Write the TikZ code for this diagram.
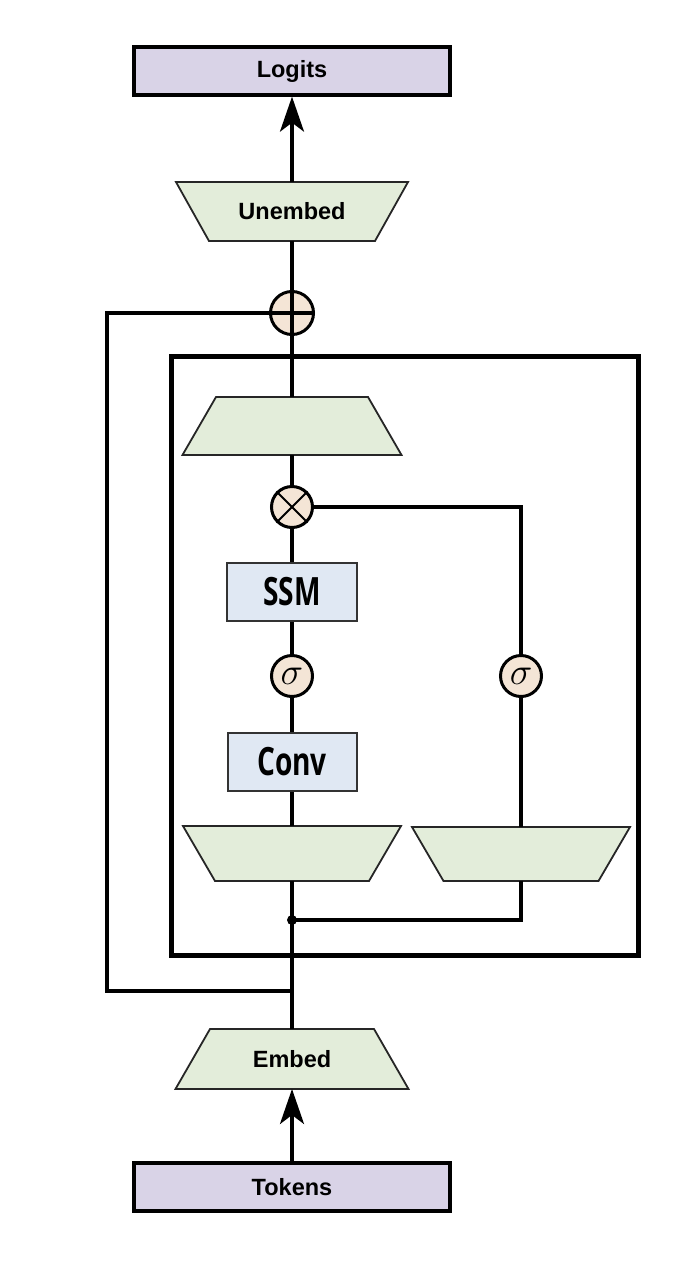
\RequirePackage{fix-cm}
\documentclass[tikz,border=0pt]{standalone}
\usepackage{fontspec}
\setmainfont{Liberation Sans}
\newfontfamily\condfont[FakeStretch=0.72]{Open Sans}
\usetikzlibrary{arrows.meta}
\definecolor{lavfill}{HTML}{D9D3E7}
\definecolor{trapfill}{HTML}{E3EDDA}
\definecolor{opfill}{HTML}{F4E5D6}
\definecolor{boxfill}{HTML}{E0E8F3}
\tikzset{
  iobox/.style={draw, line width=3.3pt, fill=lavfill, minimum width=316pt, minimum height=48pt, inner sep=0pt, font=\fontsize{23.5}{28}\selectfont\bfseries},
  trapshape/.style={draw=black!85, line width=1.8pt, fill=trapfill, line join=miter},
  traplabel/.style={inner sep=0pt, font=\fontsize{23.5}{28}\selectfont\bfseries},
  opcirc/.style={circle, draw, line width=3pt, fill=opfill, minimum size=41pt, inner sep=0pt},
  layerbox/.style={draw=black!80, line width=2pt, fill=boxfill, inner sep=0pt, font=\condfont\bfseries\fontsize{39}{44}\selectfont},
  conn/.style={line width=3.2pt},
  bigarrow/.style={conn, -{Stealth[length=35pt,width=24pt,inset=9pt]}},
  sig/.style={font=\fontsize{38}{42}\selectfont}
}
\begin{document}
\begin{tikzpicture}[x=1pt,y=-1pt]
\useasboundingbox (0,0) rectangle (690,1274);
% outer block
\node[draw, line width=5pt, minimum width=467pt, minimum height=599pt, inner sep=0pt] (block) at (404.5,655.5) {};
% boxes
\node[iobox] (logits) at (292,71) {Logits};
\node[iobox] (tokens) at (292,1187) {Tokens};
% trapezoids (top/bottom centre coordinates named)
\draw[trapshape] (176,182) -- (408,182) -- (375,241) -- (209,241) -- cycle;
\coordinate (unT) at (292,182); \coordinate (unB) at (292,241);
\node[traplabel] (unemb) at (292,211.5) {Unembed};
\draw[trapshape] (216,397) -- (368,397) -- (401.5,455) -- (182.5,455) -- cycle;
\coordinate (opT) at (292,397); \coordinate (opB) at (292,455);
\draw[trapshape] (183,826) -- (401,826) -- (369,881) -- (215,881) -- cycle;
\coordinate (ipT) at (292,826); \coordinate (ipB) at (292,881);
\draw[trapshape] (412,827) -- (630,827) -- (598.5,881) -- (443.5,881) -- cycle;
\coordinate (gpT) at (521,827); \coordinate (gpB) at (521,881);
\draw[trapshape] (210,1029) -- (374,1029) -- (408.5,1089) -- (175.5,1089) -- cycle;
\coordinate (emT) at (292,1029); \coordinate (emB) at (292,1089);
\node[traplabel] (emb) at (292,1059) {Embed};
% operators
\node[opcirc, minimum size=43pt] (plus) at (292,313) {};
\node[opcirc] (times) at (292,507) {};
\node[opcirc, sig] (sigL) at (292,676) {$\sigma$};
\node[opcirc, sig] (sigR) at (521,676) {$\sigma$};
% layers
\node[layerbox, minimum width=130pt, minimum height=58pt] (ssm) at (292,592) {SSM};
\node[layerbox, minimum width=129pt, minimum height=58pt] (conv) at (292,762) {Conv};
% junction
\node[circle, fill, inner sep=0pt, minimum size=10pt] (dot) at (292,920) {};
\coordinate (res) at (292,991);
\coordinate (resL) at (107,991);
% connectors
\draw[bigarrow] (tokens.north) -- (emB);
\draw[conn] (emT) -- (res) -- (dot.center) -- (ipB);
\draw[conn] (res) -- (resL) |- (plus.west);
\draw[conn] (dot.center) -| (gpB);
\draw[conn] (gpT) -- (sigR.south);
\draw[conn] (sigR.north) |- (times.east);
\draw[conn] (ipT) -- (conv.south);
\draw[conn] (conv.north) -- (sigL.south);
\draw[conn] (sigL.north) -- (ssm.south);
\draw[conn] (ssm.north) -- (times.south);
\draw[conn] (times.north) -- (opB);
\draw[conn] (opT) -- (plus.south);
\draw[conn] (plus.north) -- (unB);
\draw[bigarrow] (unT) -- (logits.south);
% operator symbols
\draw[conn] (plus.north) -- (plus.south);
\draw[conn] (plus.west) -- (plus.east);
\draw[line width=2pt] (times.north west) -- (times.south east);
\draw[line width=2pt] (times.north east) -- (times.south west);
\end{tikzpicture}
\end{document}
